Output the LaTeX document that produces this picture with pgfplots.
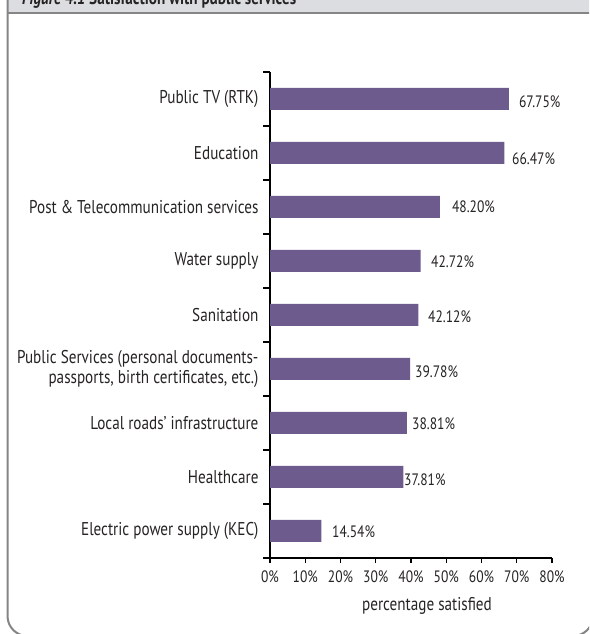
\documentclass[border=0pt]{standalone}
\usepackage{pgfplots}
\pgfplotsset{compat=1.18}
\usepackage{fontspec}
\setmainfont[FakeStretch=0.82]{PT Sans}
\definecolor{barc}{HTML}{6D5B8E}
\definecolor{txt}{HTML}{262324}
\definecolor{hdr}{HTML}{DCDDE0}
\definecolor{frm}{HTML}{858585}
\newcommand{\lf}{\fontsize{18.5}{19.5}\selectfont}
\newcommand{\nf}{\fontsize{16.5}{18}\selectfont}
\pgfplotstableread{
x y v
70.6 7.944 67.75
68.65 6.889 66.47
51.6 6.0 48.20
45.67 4.98 42.72
44.82 3.963 42.12
41.13 2.944 39.78
40.28 1.981 38.81
38.01 0.944 37.81
17.59 -0.019 14.54
}\labtab
\begin{document}
\begin{tikzpicture}
\useasboundingbox (0,0) rectangle (589pt,634pt);
\begin{scope}
\clip (0,0) rectangle (589pt,634pt);
\fill[hdr] (7.5pt,621pt) rectangle (600pt,640pt);
\node[anchor=base west, inner sep=0pt, font=\lf, text=txt] at (22pt,629pt) {\textbf{\textit{Figure 4.1} Satisfaction with public services}};
\draw[frm, line width=2pt] (7.5pt,621pt) -- (600pt,621pt);
\draw[frm, line width=2pt, rounded corners=20pt] (7.5pt,640pt) -- (7.5pt,-2pt) -- (593pt,-2pt) -- (593pt,640pt);
\end{scope}
\begin{axis}[
  at={(270pt,76pt)}, anchor=south west, scale only axis,
  width=282pt, height=486pt,
  xmin=0, xmax=80, ymin=-0.5, ymax=8.5,
  xtick={0,10,...,80},
  xticklabels={0\%,10\%,20\%,30\%,40\%,50\%,60\%,70\%,80\%},
  ytick={0,...,8},
  yticklabels={Electric power supply (KEC),Healthcare,Local roads' infrastructure,{Public Services (personal documents-\\passports, birth certificates, etc.)},Sanitation,Water supply,Post \& Telecommunication services,Education,Public TV (RTK)},
  minor ytick={-0.5,0.5,...,8.5},
  tick align=outside,
  major tick length=5pt, minor tick length=7pt,
  every major y tick/.append style={draw=none},
  axis x line*=bottom, axis y line*=left,
  axis line style={line width=1.3pt, black, -},
  tick style={line width=1.1pt, black},
  yticklabel style={font=\lf, text=txt, align=right, xshift=-3pt},
  xticklabel style={font=\nf, text=txt, yshift=-4pt},
  xlabel={percentage satisfied},
  xlabel style={font=\lf, text=txt, xshift=16pt, yshift=-8pt},
  clip=false,
]
\addplot[xbar, fill=barc, draw=none, bar width=22pt] coordinates {
(14.54,0) (37.81,1) (38.81,2) (39.78,3) (42.12,4) (42.72,5) (48.20,6) (66.47,7) (67.75,8)};
\addplot[draw=none, mark=none, point meta=explicit,
  nodes near coords={\pgfmathprintnumber[fixed,precision=2,fixed zerofill,assume math mode=true]{\pgfplotspointmeta}\%},
  every node near coord/.style={anchor=west, inner sep=0pt, font=\nf, text=txt}]
  table[x=x, y=y, meta=v] {\labtab};
\end{axis}
\end{tikzpicture}
\end{document}
